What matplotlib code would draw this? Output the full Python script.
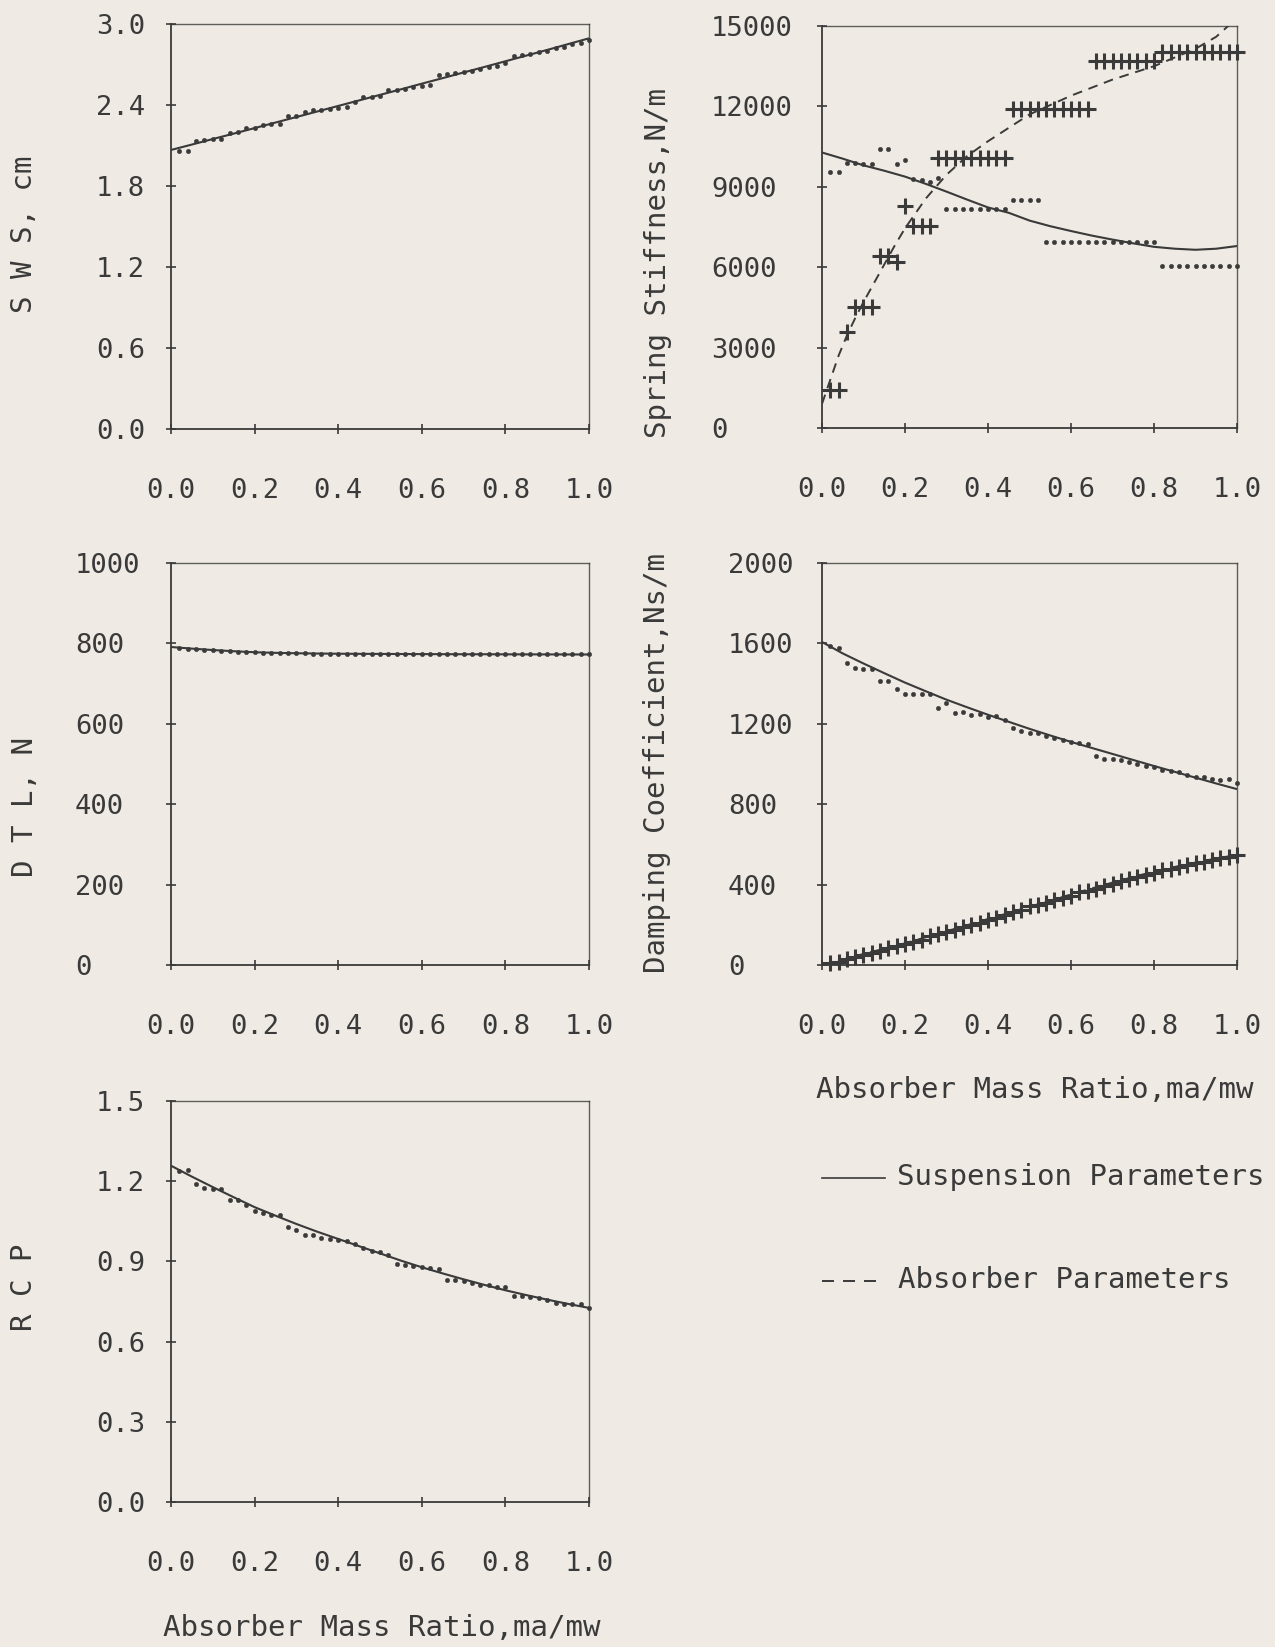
import matplotlib
matplotlib.use("Agg")
import matplotlib.pyplot as plt
from matplotlib.lines import Line2D

# ---------------------------------------------------------------------------
# Data: optimum suspension / absorber parameters versus absorber mass ratio
# ---------------------------------------------------------------------------
SAMPLE_X = [round(0.02 * i, 2) for i in range(1, 51)]
FIT_X = [round(0.05 * i, 2) for i in range(0, 21)]

# Suspension working space (cm)
sws_points = [2.06, 2.06, 2.13, 2.14, 2.15, 2.15, 2.19, 2.20, 2.23, 2.23,
              2.25, 2.26, 2.26, 2.32, 2.32, 2.35, 2.36, 2.365, 2.37, 2.38,
              2.385, 2.42, 2.46, 2.46, 2.47, 2.51, 2.51, 2.52, 2.53, 2.54,
              2.55, 2.62, 2.63, 2.64, 2.645, 2.65, 2.67, 2.685, 2.69, 2.71,
              2.765, 2.77, 2.78, 2.79, 2.80, 2.82, 2.83, 2.85, 2.86, 2.88]
sws_fit = [2.067, 2.107, 2.148, 2.188, 2.229, 2.270, 2.311, 2.352, 2.393,
           2.434, 2.475, 2.516, 2.558, 2.599, 2.641, 2.682, 2.724, 2.766,
           2.808, 2.851, 2.894]

# Dynamic tyre load (N)
dtl_points = [789, 787, 785.5, 784, 782.5, 781, 780, 779, 778, 777.5,
              777, 776.5, 776, 775.5, 775, 775, 774.5, 774.5, 774, 774,
              774, 774, 773.5, 773.5, 773.5, 773.5, 773.5, 773.5, 773, 773,
              773, 773, 773, 773, 773, 773, 773, 773, 773, 773,
              772.5, 772.5, 772.5, 772.5, 772.5, 772.5, 772.5, 772.5, 772.5, 772.5]
dtl_fit = [791, 787, 783.5, 780.5, 778, 776.5, 775.5, 774.8, 774.3, 774,
           773.8, 773.6, 773.4, 773.2, 773, 773, 772.8, 772.7, 772.6, 772.5,
           772.4]

# Ride comfort parameter
rcp_points = [1.240, 1.242, 1.189, 1.176, 1.170, 1.170, 1.130, 1.130, 1.110, 1.090,
              1.081, 1.073, 1.073, 1.030, 1.017, 0.997, 0.997, 0.988, 0.984, 0.980,
              0.977, 0.964, 0.951, 0.940, 0.935, 0.925, 0.891, 0.887, 0.882, 0.878,
              0.874, 0.872, 0.832, 0.829, 0.825, 0.819, 0.812, 0.812, 0.805, 0.805,
              0.772, 0.772, 0.766, 0.763, 0.755, 0.746, 0.742, 0.739, 0.742, 0.726]
rcp_fit = [1.258, 1.217, 1.178, 1.140, 1.103, 1.071, 1.040, 1.011, 0.984,
           0.957, 0.930, 0.903, 0.878, 0.855, 0.833, 0.812, 0.792, 0.774,
           0.757, 0.741, 0.726]

# Spring stiffness (N/m): suspension (dots, solid fit) and absorber (+, dashed fit)
k_susp_points = [9540, 9540, 9870, 9870, 9850, 9850, 10400, 10400, 9850, 10000,
                 9290, 9250, 9190, 9340, 8160, 8160, 8160, 8160, 8160, 8160,
                 8160, 8160, 8500, 8500, 8500, 8500, 6930, 6930, 6930, 6930,
                 6930, 6930, 6930, 6930, 6930, 6930, 6930, 6930, 6930, 6930,
                 6030, 6030, 6030, 6030, 6030, 6030, 6030, 6030, 6030, 6030]
k_susp_fit = [10280, 10050, 9800, 9600, 9380, 9110, 8820, 8520, 8230, 8030,
              7740, 7530, 7350, 7180, 7030, 6890, 6760, 6690, 6650, 6690, 6790]
k_abs_points = [1400, 1400, 3570, 4520, 4520, 4520, 6420, 6420, 6200, 8300,
                7540, 7540, 7540, 10060, 10060, 10060, 10060, 10060, 10060, 10060,
                10060, 10060, 11900, 11900, 11900, 11900, 11900, 11900, 11900, 11900,
                11900, 11900, 13700, 13700, 13700, 13700, 13700, 13700, 13700, 13700,
                14020, 14020, 14020, 14020, 14020, 14020, 14020, 14020, 14020, 14020]
k_abs_fit_x = [0, 0.02, 0.04, 0.06, 0.08, 0.10, 0.125, 0.15, 0.175, 0.20, 0.25,
               0.30, 0.35, 0.40, 0.45, 0.50, 0.60, 0.70, 0.80, 0.90, 0.95, 1.0]
k_abs_fit = [900, 1800, 2700, 3450, 4100, 4700, 5400, 6100, 6800, 7450, 8560,
             9450, 10150, 10700, 11200, 11700, 12400, 13000, 13500, 14150, 14600,
             15300]

# Damping coefficient (Ns/m): suspension (dots) and absorber (+)
c_susp_points = [1586, 1579, 1503, 1478, 1475, 1475, 1413, 1412, 1375, 1347,
                 1350, 1347, 1347, 1279, 1301, 1254, 1259, 1243, 1248, 1234,
                 1238, 1218, 1177, 1165, 1155, 1152, 1140, 1127, 1118, 1110,
                 1102, 1099, 1039, 1027, 1024, 1019, 1011, 1002, 991, 986,
                 969, 964, 958, 944, 936, 936, 923, 920, 923, 903]
c_susp_fit = [1607, 1550, 1500, 1452, 1405, 1362, 1320, 1282, 1245, 1210,
              1175, 1142, 1110, 1080, 1050, 1020, 990, 961, 932, 903, 875]
c_abs_points = [8, 14, 30, 38, 50, 62, 72, 84, 96, 102,
                116, 126, 146, 152, 162, 176, 188, 200, 210, 224,
                236, 248, 262, 272, 294, 298, 308, 322, 334, 344,
                362, 370, 380, 392, 404, 416, 426, 436, 448, 458,
                472, 480, 488, 498, 506, 514, 522, 530, 538, 546]
c_abs_fit = [0, 27, 55, 81, 108, 138, 168, 198, 229, 259, 290, 320, 351,
             381, 410, 438, 465, 488, 510, 530, 548]

X_TICKS = [0.0, 0.2, 0.4, 0.6, 0.8, 1.0]
X_TICK_LABELS = ["0.0", "0.2", "0.4", "0.6", "0.8", "1.0"]
SWS_TICKS = [0.0, 0.6, 1.2, 1.8, 2.4, 3.0]
SWS_TICK_LABELS = ["0.0", "0.6", "1.2", "1.8", "2.4", "3.0"]
DTL_TICKS = [0, 200, 400, 600, 800, 1000]
DTL_TICK_LABELS = ["0", "200", "400", "600", "800", "1000"]
RCP_TICKS = [0.0, 0.3, 0.6, 0.9, 1.2, 1.5]
RCP_TICK_LABELS = ["0.0", "0.3", "0.6", "0.9", "1.2", "1.5"]
K_TICKS = [0, 3000, 6000, 9000, 12000, 15000]
K_TICK_LABELS = ["0", "3000", "6000", "9000", "12000", "15000"]
C_TICKS = [0, 400, 800, 1200, 1600, 2000]
C_TICK_LABELS = ["0", "400", "800", "1200", "1600", "2000"]

X_LABEL = "Absorber Mass Ratio,ma/mw"
LEGEND_SUSP = "Suspension Parameters"
LEGEND_ABS = "Absorber Parameters"

# ---------------------------------------------------------------------------
# Styling
# ---------------------------------------------------------------------------
W, H, DPI = 1275, 1647, 100
BG = "#efebe4"
INK = "#3a3a3a"
MONO = ["DejaVu Sans Mono"]
TICK_FS = 19.5
LABEL_FS = 21
TICK_LEN = 10  # px, tick crosses the frame

plt.rcParams["font.family"] = MONO
plt.rcParams["text.color"] = INK

fig = plt.figure(figsize=(W / DPI, H / DPI), dpi=DPI, facecolor=BG)


def fx(px):
    return px / W


def fy(py):
    return 1 - py / H


def make_axes(left, top, right, bottom):
    return fig.add_axes([fx(left), fy(bottom), fx(right - left), (bottom - top) / H])


def style_axes(ax, yticks, ylabels, ylim, ylabel_gap, xlabel_gap=49):
    ax.set_facecolor(BG)
    ax.set_xlim(0, 1)
    ax.set_ylim(*ylim)
    ax.set_xticks(X_TICKS)
    ax.set_xticklabels(X_TICK_LABELS)
    ax.set_yticks(yticks)
    ax.set_yticklabels(ylabels)
    for sp in ax.spines.values():
        sp.set_color(INK)
        sp.set_linewidth(1.3)
    for side in ("top", "right"):
        ax.spines[side].set_linewidth(1.0)
        ax.spines[side].set_alpha(0.8)
    out_pt = TICK_LEN / 2 * 0.72
    ax.tick_params(axis="both", direction="inout", length=TICK_LEN * 0.72,
                   width=1.2, color=INK, labelsize=TICK_FS, labelcolor=INK,
                   top=False, right=False)
    ax.tick_params(axis="y", pad=ylabel_gap * 0.72 - out_pt)
    ax.tick_params(axis="x", pad=xlabel_gap * 0.72 - out_pt)
    for lbl in ax.get_yticklabels():
        lbl.set_horizontalalignment("left")
    for line in ax.get_xticklines() + ax.get_yticklines():
        line.set_clip_on(False)


LINE_KW = dict(color=INK, lw=1.5, solid_capstyle="butt")
DASH_KW = dict(color=INK, lw=1.4, dashes=(5, 3.5))
DOT_KW = dict(ls="none", marker="o", ms=3.2, mfc=INK, mec=INK, mew=0.3)
PLUS_KW = dict(ls="none", marker="+", ms=11, mec=INK, mew=2.2)

# --- Suspension working space ---
ax1 = make_axes(171, 24, 589, 429)
style_axes(ax1, SWS_TICKS, SWS_TICK_LABELS, (0, 3.0), ylabel_gap=75)
ax1.plot(FIT_X, sws_fit, **LINE_KW)
ax1.plot(SAMPLE_X, sws_points, clip_on=False, **DOT_KW)

# --- Spring stiffness ---
ax2 = make_axes(822, 26, 1237, 428)
style_axes(ax2, K_TICKS, K_TICK_LABELS, (0, 15000), ylabel_gap=111)
ax2.plot(FIT_X, k_susp_fit, **LINE_KW)
ax2.plot(k_abs_fit_x, k_abs_fit, **DASH_KW)
ax2.plot(SAMPLE_X, k_susp_points, clip_on=False, **DOT_KW)
ax2.plot(SAMPLE_X, k_abs_points, clip_on=False, **PLUS_KW)

# --- Dynamic tyre load ---
ax3 = make_axes(171, 563, 589, 965)
style_axes(ax3, DTL_TICKS, DTL_TICK_LABELS, (0, 1000), ylabel_gap=96)
ax3.plot(FIT_X, dtl_fit, **LINE_KW)
ax3.plot(SAMPLE_X, dtl_points, clip_on=False, **DOT_KW)

# --- Damping coefficient ---
ax4 = make_axes(822, 563, 1237, 965)
style_axes(ax4, C_TICKS, C_TICK_LABELS, (0, 2000), ylabel_gap=94)
ax4.plot(FIT_X, c_susp_fit, **LINE_KW)
ax4.plot(FIT_X, c_abs_fit, **DASH_KW)
ax4.plot(SAMPLE_X, c_susp_points, clip_on=False, **DOT_KW)
ax4.plot(SAMPLE_X, c_abs_points, clip_on=False, **PLUS_KW)

# --- Ride comfort parameter ---
ax5 = make_axes(171, 1101, 589, 1502)
style_axes(ax5, RCP_TICKS, RCP_TICK_LABELS, (0, 1.5), ylabel_gap=75)
ax5.plot(FIT_X, rcp_fit, **LINE_KW)
ax5.plot(SAMPLE_X, rcp_points, clip_on=False, **DOT_KW)

# --- Axis titles ---
YL = dict(rotation=90, ha="center", va="center", fontsize=LABEL_FS, color=INK)
fig.text(fx(24), fy(234), "S W S, cm", **YL)
fig.text(fx(658), fy(263), "Spring Stiffness,N/m", **YL)
fig.text(fx(25), fy(807), "D T L, N", **YL)
fig.text(fx(657), fy(763), "Damping Coefficient,Ns/m", **YL)
fig.text(fx(24), fy(1287), "R C P", **YL)

XL = dict(ha="center", va="center", fontsize=LABEL_FS, color=INK)
fig.text(fx(382), fy(1628), X_LABEL, **XL)
fig.text(fx(1035), fy(1090), X_LABEL, **XL)

# --- Key ---
fig.add_artist(Line2D([fx(822), fx(885)], [fy(1178), fy(1178)],
                      transform=fig.transFigure, color=INK, lw=1.2))
fig.text(fx(897), fy(1177), LEGEND_SUSP, ha="left", va="center",
         fontsize=LABEL_FS, color=INK)
for x0 in (822, 843, 864):
    fig.add_artist(Line2D([fx(x0), fx(x0 + 12)], [fy(1281), fy(1281)],
                          transform=fig.transFigure, color=INK, lw=1.4,
                          solid_capstyle="butt"))
fig.text(fx(898), fy(1280), LEGEND_ABS, ha="left", va="center",
         fontsize=LABEL_FS, color=INK)

fig.savefig("out.png", dpi=DPI, facecolor=BG)
